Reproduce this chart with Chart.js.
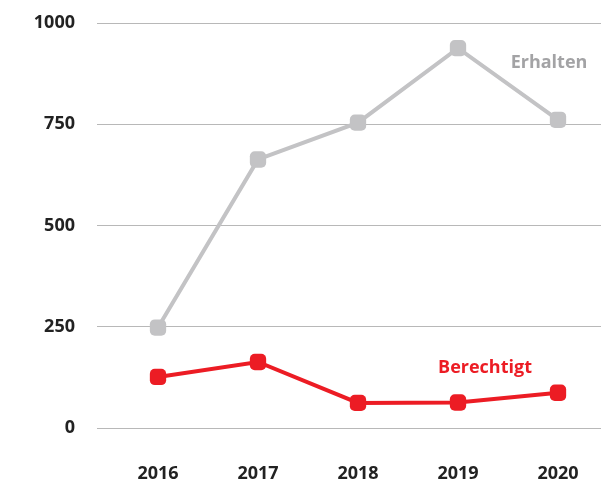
<!DOCTYPE html>
<html>
<head>
<meta charset="utf-8">
<script src="https://cdn.jsdelivr.net/npm/chart.js@4/dist/chart.umd.min.js"></script>
<style>
  html, body { margin: 0; padding: 0; background: #fff; overflow: hidden; }
  canvas { display: block; }
</style>
</head>
<body>
<canvas id="chart" width="601" height="484"></canvas>
<script>
// data
const years = [2016, 2017, 2018, 2019, 2020];
const erhalten = [248, 663, 754, 938, 761];
const berechtigt = [126, 163, 62, 63, 87];
const yTicks = [0, 250, 500, 750, 1000];

const GREY = '#c3c3c5';
const RED = '#ec1c24';
const FONT = "'Open Sans', sans-serif";

// series names written next to the lines
const seriesLabels = {
    id: 'seriesLabels',
    afterDatasetsDraw(chart) {
        const { ctx, scales: { x, y } } = chart;
        ctx.save();
        ctx.font = `bold 18px ${FONT}`;
        ctx.textAlign = 'center';
        ctx.textBaseline = 'middle';
        ctx.fillStyle = '#a3a3a5';
        ctx.fillText('Erhalten', x.getPixelForValue(2019.91), y.getPixelForValue(902));
        ctx.fillStyle = RED;
        ctx.fillText('Berechtigt', x.getPixelForValue(2019.27), y.getPixelForValue(148));
        ctx.restore();
    }
};

const toPoints = arr => arr.map((v, i) => ({ x: years[i], y: v }));

new Chart(document.getElementById('chart'), {
    type: 'line',
    data: {
        datasets: [
            {
                label: 'Erhalten',
                data: toPoints(erhalten),
                borderColor: GREY,
                backgroundColor: GREY,
                borderWidth: 4,
                pointStyle: 'rectRounded',
                pointRadius: 9.5,
                pointBorderWidth: 0,
                pointHoverRadius: 9.5,
                tension: 0
            },
            {
                label: 'Berechtigt',
                data: toPoints(berechtigt),
                borderColor: RED,
                backgroundColor: RED,
                borderWidth: 4,
                pointStyle: 'rectRounded',
                pointRadius: 9.5,
                pointBorderWidth: 0,
                pointHoverRadius: 9.5,
                tension: 0
            }
        ]
    },
    options: {
        responsive: false,
        animation: false,
        layout: { autoPadding: false, padding: { top: 23, right: 0, left: 0, bottom: 0 } },
        plugins: { legend: { display: false }, tooltip: { enabled: false } },
        scales: {
            x: {
                type: 'linear',
                min: 2015.39,
                max: 2020.43,
                afterBuildTicks: s => { s.ticks = years.map(v => ({ value: v })); },
                afterFit: s => { s.height = 56; s.paddingLeft = 0; s.paddingRight = 0; },
                grid: { display: false },
                border: { display: false },
                ticks: {
                    padding: 27,
                    color: '#222',
                    font: { family: FONT, size: 18, weight: 'bold' },
                    callback: v => String(v)
                }
            },
            y: {
                min: 0,
                max: 1000,
                afterBuildTicks: s => { s.ticks = yTicks.map(v => ({ value: v })); },
                afterFit: s => { s.width = 97; s.paddingTop = 0; s.paddingBottom = 0; },
                border: { display: false },
                grid: { color: '#b8b8b8', lineWidth: 1, drawTicks: false },
                ticks: {
                    padding: 22,
                    color: '#222',
                    font: { family: FONT, size: 18, weight: 'bold' },
                    callback: v => String(v)
                }
            }
        }
    },
    plugins: [seriesLabels]
});
</script>
</body>
</html>
